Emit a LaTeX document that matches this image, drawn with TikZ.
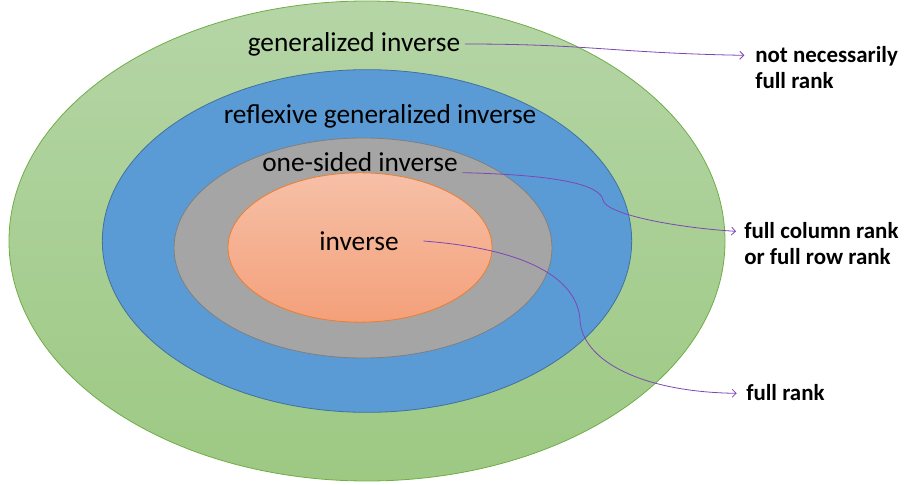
\documentclass[tikz,border=0pt]{standalone}
\usepackage{fontspec}
\setmainfont{Carlito}
\usetikzlibrary{shapes.geometric,arrows.meta}
\definecolor{greentop}{RGB}{181,213,166}
\definecolor{greenbot}{RGB}{157,201,131}
\definecolor{greenedge}{RGB}{112,173,71}
\definecolor{bluefill}{RGB}{91,155,213}
\definecolor{blueedge}{RGB}{65,113,156}
\definecolor{grayfill}{RGB}{165,165,165}
\definecolor{grayedge}{RGB}{127,127,127}
\definecolor{orangetop}{RGB}{246,192,167}
\definecolor{orangebot}{RGB}{244,160,122}
\definecolor{orangeedge}{RGB}{237,125,49}
\definecolor{linkpurple}{RGB}{125,70,180}
\begin{document}
\begin{tikzpicture}[
        x=0.75pt, y=-0.75pt,
        ring/.style={draw, ellipse, inner sep=0pt, line width=0.6pt},
        ringtext/.style={font=\fontsize{20.5}{24}\selectfont},
        side/.style={font=\fontsize{17.2}{19.5}\selectfont\bfseries, align=left, anchor=north west, inner sep=0pt},
        link/.style={draw=linkpurple, line width=0.6pt, -{Straight Barb[length=3pt,width=6pt]}},
    ]
    \useasboundingbox (0,0) rectangle (904,485);
    \node[ring, draw=greenedge, top color=greentop, bottom color=greenbot, minimum width=537pt, minimum height=360pt](gen) at (367,241){};
    \node[ring, draw=blueedge, fill=bluefill, minimum width=397pt, minimum height=257pt](refl) at (367,241){};
    \node[ring, draw=grayedge, fill=grayfill, minimum width=283.5pt, minimum height=165pt](one) at (363,248){};
    \node[ring, draw=orangeedge, top color=orangetop, bottom color=orangebot, minimum width=198pt, minimum height=112pt](inv) at (360,247.5){};
    \node[ringtext](gentext) at (354,44){generalized inverse};
    \node[ringtext](refltext) at (380,116){reflexive generalized inverse};
    \node[ringtext](onetext) at (360,162){one-sided inverse};
    \node[ringtext](invtext) at (359,241){inverse};
    \node[side](notnec) at (755,46){not necessarily\\full rank};
    \node[side](fullcol) at (744,222){full column rank\\or full row rank};
    \node[side](fullrank) at (746,384){full rank};
    \draw[link] (gentext.east) .. controls (590,44) and (615,53) .. ([xshift=-8pt,yshift=-7pt]notnec.north west);
    \draw[link] ([yshift=-8pt]onetext.east) .. controls (560,175) and (600,185) .. (603,200)
        .. controls (606,215) and (680,228) .. ([xshift=-6pt,yshift=-7pt]fullcol.north west);
    \draw[link] ([xshift=15pt]invtext.east) .. controls (540,250) and (578,285) .. (580,320)
        .. controls (582,360) and (640,392) .. ([xshift=-7pt,yshift=-7pt]fullrank.north west);
\end{tikzpicture}
\end{document}
